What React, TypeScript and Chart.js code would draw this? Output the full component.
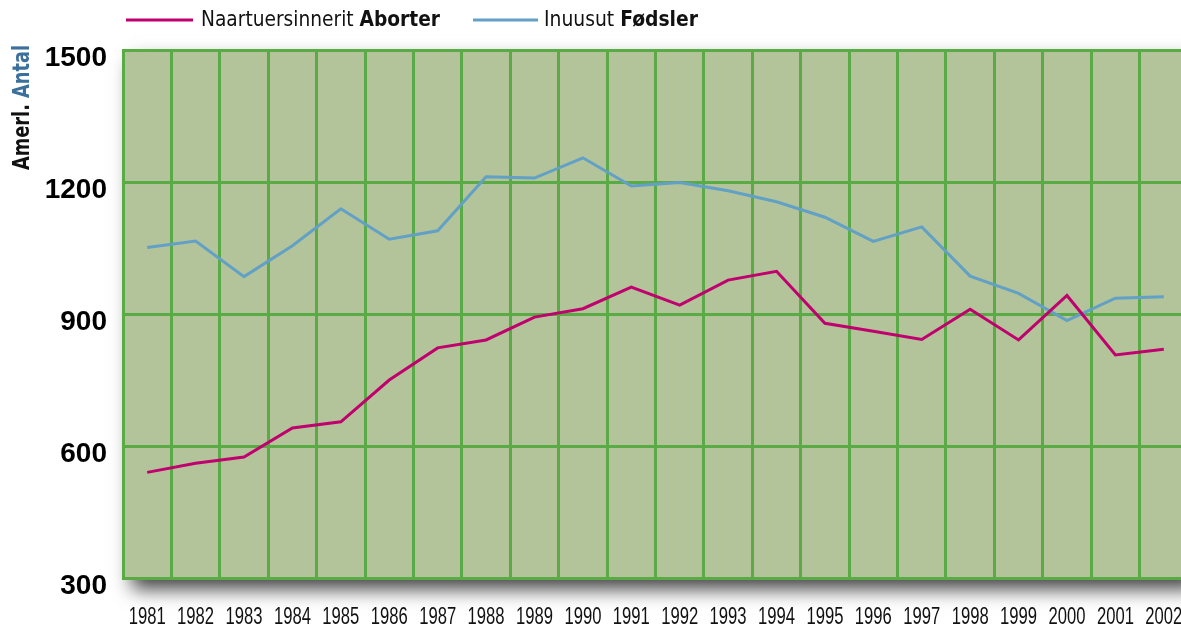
import React, { useEffect, useRef } from 'react';
import { Chart, registerables } from 'chart.js';

Chart.register(...registerables);

const categories = ['1981','1982','1983','1984','1985','1986','1987','1988','1989','1990','1991','1992','1993','1994','1995','1996','1997','1998','1999','2000','2001','2002'];
const aborter = [540, 561, 575, 641, 655, 750, 823, 841, 893, 912, 961, 920, 977, 997, 879, 861, 842, 911, 841, 942, 807, 820];
const fodsler = [1051, 1066, 985, 1055, 1139, 1070, 1089, 1212, 1209, 1255, 1191, 1199, 1180, 1155, 1120, 1065, 1098, 986, 947, 885, 936, 939];
const yTicks = [300, 600, 900, 1200, 1500];

const NARROW = '"Liberation Sans Narrow", "DejaVu Sans Condensed", "Liberation Sans", sans-serif';
const WIDE = '"Liberation Sans", Arial, sans-serif';

const MAGENTA = '#c0006f';
const BLUE = '#62a0c6';
const GRID = '#5aaa46';
const BG = '#b3c49a';
const TITLE_BLUE = '#3b6f9c';

function drawParts(ctx: CanvasRenderingContext2D, parts: { t: string; font: string; color: string }[], x: number, y: number, targetW: number, align: 'left' | 'center' = 'left') {
  let total = 0;
  for (const p of parts) { ctx.font = p.font; total += ctx.measureText(p.t).width; }
  const sx = targetW / total;
  ctx.save();
  ctx.translate(align === 'center' ? x - targetW / 2 : x, y);
  ctx.scale(sx, 1);
  let cx = 0;
  ctx.textBaseline = 'middle';
  ctx.textAlign = 'left';
  for (const p of parts) {
    ctx.font = p.font;
    ctx.fillStyle = p.color;
    ctx.fillText(p.t, cx, 0);
    cx += ctx.measureText(p.t).width;
  }
  ctx.restore();
}

const decorPlugin = {
  id: 'decor',
  beforeDraw(chart: any) {
    const { ctx, chartArea: a } = chart;
    ctx.save();
    ctx.shadowColor = 'rgba(0,0,0,0.75)';
    ctx.shadowBlur = 18;
    ctx.shadowOffsetX = 9;
    ctx.shadowOffsetY = 11;
    ctx.fillStyle = BG;
    ctx.fillRect(a.left, a.top, a.width, a.height);
    ctx.restore();
  },
  afterDraw(chart: any) {
    const { ctx } = chart;
    // x tick labels (category labels drawn at the x scale's pixel positions)
    const xs = chart.scales.x;
    categories.forEach((c, i) => {
      const px = xs.getPixelForValue(i);
      drawParts(ctx, [{ t: c, font: `23px ${WIDE}`, color: '#111' }], px, 618, 37, 'center');
    });
    // legend
    ctx.save();
    ctx.lineWidth = 3;
    ctx.strokeStyle = MAGENTA;
    ctx.beginPath(); ctx.moveTo(126, 20); ctx.lineTo(193, 20); ctx.stroke();
    ctx.strokeStyle = BLUE;
    ctx.beginPath(); ctx.moveTo(473, 20); ctx.lineTo(538, 20); ctx.stroke();
    ctx.restore();
    drawParts(ctx, [
      { t: 'Naartuersinnerit ', font: `21px ${NARROW}`, color: '#111' },
      { t: 'Aborter', font: `bold 21px ${NARROW}`, color: '#111' },
    ], 201, 21, 239);
    drawParts(ctx, [
      { t: 'Inuusut ', font: `21px ${NARROW}`, color: '#111' },
      { t: 'Fødsler', font: `bold 21px ${NARROW}`, color: '#111' },
    ], 544, 21, 154);
    // y title
    ctx.save();
    ctx.translate(23, 170);
    ctx.rotate(-Math.PI / 2);
    drawParts(ctx, [
      { t: 'Amerl. ', font: `bold 23px ${NARROW}`, color: '#111' },
      { t: 'Antal', font: `bold 23px ${NARROW}`, color: TITLE_BLUE },
    ], 0, 0, 125);
    ctx.restore();
  },
};

export default function App() {
  const ref = useRef<HTMLCanvasElement | null>(null);
  useEffect(() => {
    if (!ref.current) return;
    const chart = new Chart(ref.current, {
      type: 'line',
      data: {
        labels: categories,
        datasets: [
          { label: 'Naartuersinnerit Aborter', data: aborter, borderColor: MAGENTA, borderWidth: 3, pointRadius: 0, tension: 0, fill: false },
          { label: 'Inuusut Fødsler', data: fodsler, borderColor: BLUE, borderWidth: 3, pointRadius: 0, tension: 0, fill: false },
        ],
      },
      options: {
        animation: false,
        responsive: false,
        maintainAspectRatio: false,
        layout: { padding: { top: 50, left: 0, right: 12, bottom: 0 } },
        plugins: { legend: { display: false }, tooltip: { enabled: false } },
        scales: {
          x: {
            offset: true,
            grid: { offset: true, color: GRID, lineWidth: 3, drawTicks: false },
            border: { color: GRID, width: 3 },
            ticks: { display: false },
            afterFit: (s: any) => { s.height = 51; },
          },
          y: {
            min: 300,
            max: 1500,
            afterBuildTicks: (s: any) => { s.ticks = yTicks.map((v) => ({ value: v })); },
            grid: { color: GRID, lineWidth: 3, drawTicks: false },
            border: { color: GRID, width: 3 },
            ticks: {
              color: '#000',
              font: { family: WIDE, size: 28, weight: 'bold' },
              padding: 16,
              labelOffset: 8,
              callback: (v: any) => String(v),
            },
            afterFit: (s: any) => { s.width = 123; },
          },
        },
      },
      plugins: [decorPlugin],
    } as any);
    return () => chart.destroy();
  }, []);
  return (
    <div style={{ position: 'fixed', left: 0, top: 0, width: 1181, height: 629, overflow: 'hidden', background: '#fff' }}>
      <canvas ref={ref} width={1200} height={629} style={{ display: 'block', width: 1200, height: 629 }} />
    </div>
  );
}
